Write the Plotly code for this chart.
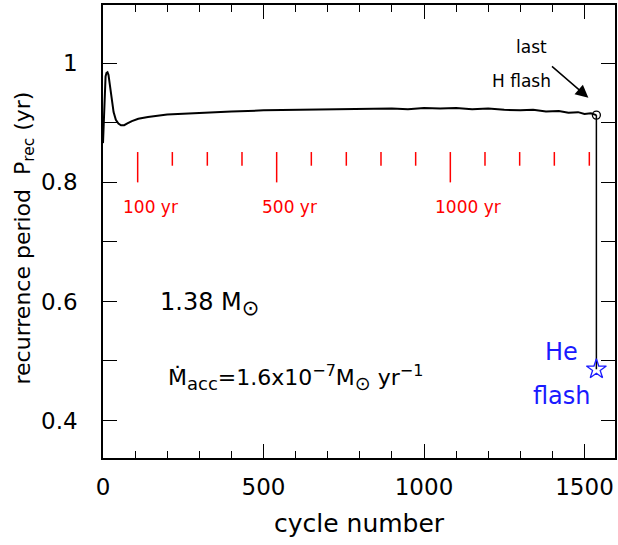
import plotly.graph_objects as go

# ---- data ----
cycle = [0, 2, 4, 6, 8, 11, 14, 17, 20, 24, 28, 33, 40, 48, 56, 66, 76, 90, 110, 140,
         200, 300, 400, 500, 600, 700, 800, 900, 950, 1000, 1050, 1100, 1150, 1200, 1250,
         1300, 1340, 1380, 1420, 1450, 1480, 1500, 1520, 1537]
p_rec = [0.866, 0.900, 0.940, 0.965, 0.978, 0.984, 0.985, 0.981, 0.970, 0.952, 0.935,
         0.918, 0.905, 0.899, 0.896, 0.896, 0.899, 0.903, 0.907, 0.910,
         0.914, 0.917, 0.919, 0.921, 0.922, 0.923, 0.923, 0.924, 0.923, 0.925, 0.924,
         0.925, 0.923, 0.924, 0.922, 0.921, 0.922, 0.919, 0.920, 0.917, 0.918, 0.915,
         0.916, 0.913]

last_h_cycle = 1537
last_h_prec = 0.913
he_flash_cycle = 1537
he_flash_prec = 0.486

year_labels_yr = [100, 500, 1000]
year_mark_yr = [100, 200, 300, 400, 500, 600, 700, 800, 900, 1000, 1100, 1200, 1300, 1400]
year_mark_cycle = [108, 216, 325, 433, 541, 649, 758, 866, 974, 1082, 1190, 1298, 1406, 1515]

x_ticks = [0, 500, 1000, 1500]
y_ticks = [0.4, 0.6, 0.8, 1.0]

FONT = "DejaVu Sans"
RED = "#ff0000"
BLUE = "#1a1aff"

fig = go.Figure()

# main curve
fig.add_trace(go.Scatter(x=cycle, y=p_rec, mode="lines",
                         line=dict(color="black", width=2), hoverinfo="skip"))

# vertical drop to He flash
fig.add_trace(go.Scatter(x=[last_h_cycle, he_flash_cycle], y=[last_h_prec, he_flash_prec],
                         mode="lines", line=dict(color="black", width=1.5)))

# last H flash marker
fig.add_trace(go.Scatter(x=[last_h_cycle], y=[last_h_prec], mode="markers",
                         marker=dict(symbol="circle-open", size=8, color="black",
                                     line=dict(width=1.3))))
# He flash star
fig.add_trace(go.Scatter(x=[he_flash_cycle], y=[he_flash_prec], mode="markers",
                         marker=dict(symbol="star-open", size=15, color=BLUE,
                                     line=dict(width=1.3))))

# red year marks
mx, my = [], []
for yr, c in zip(year_mark_yr, year_mark_cycle):
    top = 0.851
    bot = 0.800 if yr in year_labels_yr else 0.828
    mx += [c, c, None]
    my += [top, bot, None]
fig.add_trace(go.Scatter(x=mx, y=my, mode="lines", line=dict(color=RED, width=1.5)))

ann = []
for yr in year_labels_yr:
    c = year_mark_cycle[year_mark_yr.index(yr)]
    ann.append(dict(x=c, y=0.759, xref="x", yref="y", text=f"{yr} yr", showarrow=False,
                    xanchor="left", yanchor="middle", xshift=-17,
                    font=dict(family=FONT, size=17, color=RED)))

ann += [
    dict(x=172, y=0.596, xref="x", yref="y",
         text="1.38 M<sub><span style='font-size:21px'>⊙</span></sub>", showarrow=False,
         xanchor="left", yanchor="middle", font=dict(family=FONT, size=24, color="black")),
    dict(x=197, y=0.472, xref="x", yref="y",
         text="Ṁ<sub><span style='font-size:18px'>acc</span></sub>=1.6x10<sup><span style='font-size:16px'>−7</span></sup>M<sub><span style='font-size:19px'>⊙</span></sub> yr<sup><span style='font-size:16px'>−1</span></sup>",
         showarrow=False, xanchor="left", yanchor="middle",
         font=dict(family=FONT, size=22, color="black")),
    dict(x=1335, y=1.027, xref="x", yref="y", text="last", showarrow=False,
         font=dict(family=FONT, size=17, color="black")),
    dict(x=1304, y=0.970, xref="x", yref="y", text="H flash", showarrow=False,
         font=dict(family=FONT, size=17, color="black")),
    dict(x=1512, y=0.942, xref="x", yref="y", ax=1394, ay=0.997, axref="x", ayref="y",
         text="", showarrow=True, arrowhead=2, arrowsize=1.7, arrowwidth=1.5,
         arrowcolor="black"),
    dict(x=1428, y=0.515, xref="x", yref="y", text="He", showarrow=False,
         font=dict(family=FONT, size=24, color=BLUE)),
    dict(x=1431, y=0.441, xref="x", yref="y", text="flash", showarrow=False,
         font=dict(family=FONT, size=24, color=BLUE)),
    dict(x=0.5, y=0, xref="paper", yref="paper", text="cycle number", showarrow=False,
         xanchor="center", yanchor="middle", yshift=-65,
         font=dict(family=FONT, size=25, color="black")),
    dict(x=0, y=0.5, xref="paper", yref="paper",
         text="recurrence period  P<sub>rec</sub> (yr)", showarrow=False, textangle=-90,
         xanchor="center", yanchor="middle", xshift=-79, yshift=-7,
         font=dict(family=FONT, size=22, color="black")),
]

axis_common = dict(showline=True, linecolor="black", linewidth=1.5, mirror="allticks",
                   ticks="inside", tickcolor="black", tickwidth=1.3, showgrid=False,
                   zeroline=False, automargin=False,
                   tickfont=dict(family=FONT, size=23, color="black"))

fig.update_layout(
    width=618, height=545,
    margin=dict(l=103, r=3, t=5, b=87),
    plot_bgcolor="white", paper_bgcolor="white",
    showlegend=False,
    annotations=ann,
    xaxis=dict(range=[0, 1595], tickvals=x_ticks, ticklen=14,
               minor=dict(dtick=100, tick0=0, ticks="inside", ticklen=7,
                          tickcolor="black", tickwidth=1.3),
               ticklabelstandoff=8, **axis_common),
    yaxis=dict(range=[0.337, 1.098], tickvals=y_ticks, ticklen=14,
               minor=dict(dtick=0.1, tick0=0.3, ticks="inside", ticklen=14,
                          tickcolor="black", tickwidth=1.3),
               ticklabelstandoff=19, **axis_common),
)

fig.write_html("out.html", config={"displayModeBar": False},
               post_script="document.body.style.margin='0';document.body.style.overflow='hidden';")
